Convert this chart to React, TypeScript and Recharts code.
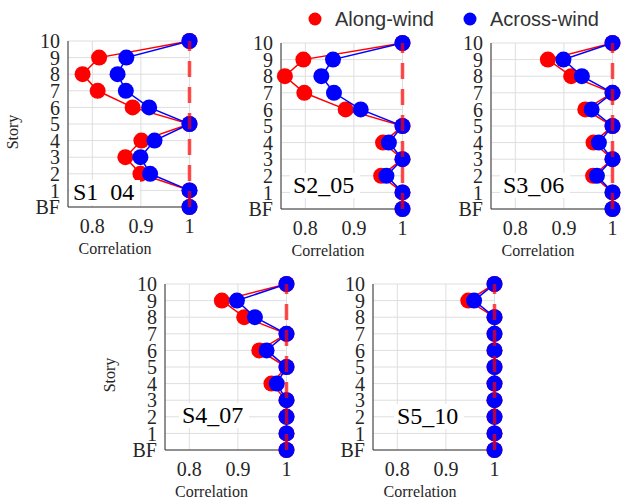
import React from 'react';
import { ScatterChart, Scatter, XAxis, YAxis, CartesianGrid, ReferenceLine } from 'recharts';

// story levels, top to bottom (0 = BF)
const stories = [10, 9, 8, 7, 6, 5, 4, 3, 2, 1, 0];
const storyTicks = [0, 1, 2, 3, 4, 5, 6, 7, 8, 9, 10];
const corrTicks = [0.8, 0.9, 1];

const s1Along = [1, 0.814, 0.78, 0.811, 0.883, 1, 0.901, 0.868, 0.899, 1, 1];
const s1Across = [1, 0.87, 0.852, 0.869, 0.917, 1, 0.928, 0.899, 0.919, 1, 1];
const s2Along = [1, 0.796, 0.758, 0.798, 0.883, 1, 0.96, 1, 0.956, 1, 1];
const s2Across = [1, 0.857, 0.833, 0.859, 0.914, 1, 0.972, 1, 0.967, 1, 1];
const s3Along = [1, 0.867, 0.915, 1, 0.944, 1, 0.961, 1, 0.96, 1, 1];
const s3Across = [1, 0.899, 0.937, 1, 0.957, 1, 0.972, 1, 0.968, 1, 1];
const s4Along = [1, 0.867, 0.913, 1, 0.944, 1, 0.969, 1, 1, 1, 1];
const s4Across = [1, 0.898, 0.935, 1, 0.959, 1, 0.98, 1, 1, 1, 1];
const s5Along = [1, 0.946, 1, 1, 1, 1, 1, 1, 1, 1, 1];
const s5Across = [1, 0.958, 1, 1, 1, 1, 1, 1, 1, 1, 1];

const RED = '#ff0000';
const BLUE = '#0000ff';
const SERIF = '"Liberation Serif", "Times New Roman", serif';
const SANS = '"Liberation Sans", Arial, sans-serif';
const INK = '#262626';

const PW = 121.5;
const PH = 166;
const YW = 60;
const TOPM = 20;

const panels = [
  { name: 'S1\u00a0\u00a004', along: s1Along, across: s1Across, x: 68, y: 41, story: true, lx: 73, ly: 200 },
  { name: 'S2_05', along: s2Along, across: s2Across, x: 281, y: 43, story: false, lx: 293, ly: 193 },
  { name: 'S3_06', along: s3Along, across: s3Across, x: 491, y: 43, story: false, lx: 503, ly: 193 },
  { name: 'S4_07', along: s4Along, across: s4Across, x: 164.5, y: 284, story: true, lx: 182, ly: 423 },
  { name: 'S5_10', along: s5Along, across: s5Across, x: 373, y: 284, story: false, lx: 397, ly: 424 },
];

const toPoints = (vals: number[]) => vals.map((v, i) => ({ x: v, y: stories[i] }));

const dot = (color: string) => (props: any) => (
  <circle cx={props.cx} cy={props.cy} r={8} fill={color} />
);

const tickStyle = { fontSize: 20, fill: INK, style: { fontFamily: SERIF } };

const Panel: React.FC<{ along: number[]; across: number[] }> = ({ along, across }) => (
  <ScatterChart width={YW + PW + 24} height={TOPM + PH + 50} margin={{ top: TOPM, right: 24, left: 0, bottom: 0 }}>
    <CartesianGrid stroke="#dedede" strokeWidth={1} />
    <XAxis
      type="number"
      dataKey="x"
      domain={[0.75, 1]}
      ticks={corrTicks}
      interval={0}
      tickFormatter={(v: number) => (v === 1 ? '1' : v.toFixed(1))}
      tick={tickStyle}
      tickLine={false}
      tickMargin={6}
      axisLine={{ stroke: '#333' }}
      height={50}
    />
    <YAxis
      type="number"
      dataKey="y"
      domain={[0, 10]}
      ticks={storyTicks}
      interval={0}
      tickFormatter={(v: number) => (v === 0 ? 'BF' : String(v))}
      tick={tickStyle}
      tickLine={false}
      axisLine={{ stroke: '#333' }}
      width={YW}
    />
    <Scatter data={toPoints(along)} fill={RED} line={{ stroke: RED, strokeWidth: 1.5 }} shape={dot(RED)} isAnimationActive={false} />
    <Scatter data={toPoints(across)} fill={BLUE} line={{ stroke: BLUE, strokeWidth: 1.5 }} shape={dot(BLUE)} isAnimationActive={false} />
    <ReferenceLine x={1} stroke={RED} strokeOpacity={0.7} strokeWidth={3.5} strokeDasharray="16 10" zIndex={1000} />
  </ScatterChart>
);

export default function App() {
  return (
    <div style={{ position: 'absolute', left: 0, top: 0, width: 621, height: 498, overflow: 'hidden', background: '#fff' }}>
      {panels.map((p) => (
        <div key={p.name} style={{ position: 'absolute', left: p.x - YW, top: p.y - TOPM }}>
          <Panel along={p.along} across={p.across} />
        </div>
      ))}
      <svg width={621} height={498} style={{ position: 'absolute', left: 0, top: 0, pointerEvents: 'none' }}>
        {/* legend */}
        <circle cx={315} cy={19} r={6.5} fill={RED} />
        <text x={335} y={26} fontSize={20} fill="#333" style={{ fontFamily: SANS }}>Along-wind</text>
        <circle cx={470} cy={19} r={6.5} fill={BLUE} />
        <text x={490} y={26} fontSize={20} fill="#333" style={{ fontFamily: SANS }}>Across-wind</text>
        {panels.map((p) => (
          <g key={p.name}>
            <rect x={p.lx - 3} y={p.ly - 20} width={70} height={25} fill="#fff" />
            <text x={p.lx} y={p.ly} fontSize={24} fill="#000" style={{ fontFamily: SERIF }}>{p.name}</text>
            <text x={p.x + 47} y={p.y + PH + 46.5} fontSize={16} fill={INK} style={{ fontFamily: SERIF }} textAnchor="middle">Correlation</text>
            {p.story && (
              <text
                x={p.x - 55.5}
                y={p.y + PH / 2 + 8}
                fontSize={16}
                fill={INK}
                style={{ fontFamily: SERIF }}
                textAnchor="middle"
                dominantBaseline="central"
                transform={`rotate(-90 ${p.x - 55.5} ${p.y + PH / 2 + 8})`}
              >
                Story
              </text>
            )}
          </g>
        ))}
      </svg>
    </div>
  );
}
